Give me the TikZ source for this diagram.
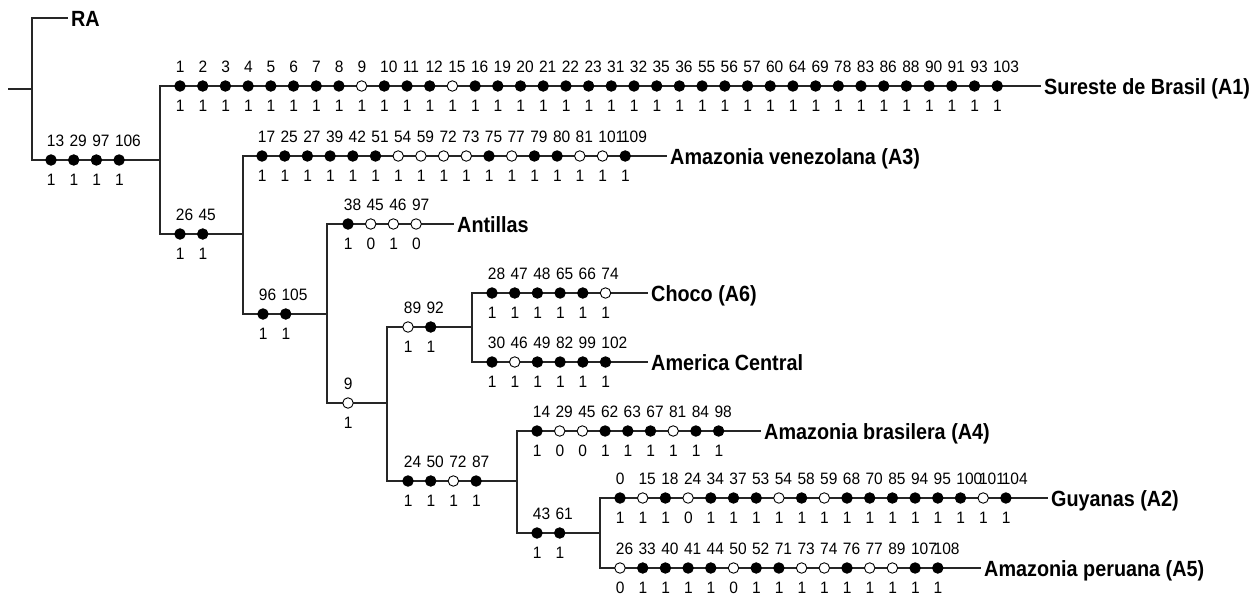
\documentclass[tikz,border=0pt]{standalone}
\usepackage{fontspec}
\setmainfont{Liberation Sans}
\newfontfamily\labfont[FakeStretch=0.94]{Liberation Sans}
\newfontfamily\taxfont[FakeStretch=0.9]{Liberation Sans Bold}
\tikzset{
  lab/.style={font=\labfont\fontsize{16.5}{16.5}\selectfont, inner sep=0pt, anchor=base west},
  taxon/.style={font=\taxfont\fontsize{22}{22}\selectfont, anchor=west, inner xsep=4pt, inner ysep=0pt, text height=16pt, text depth=0pt},
  dot/.style={circle, draw=black, line width=0.9pt, minimum size=10.5pt, inner sep=0pt},
  branch/.style={line width=1.1pt, line cap=rect, draw=black!85}
}
\newcommand\chrow[4]{%
  \foreach \n/\f/\b [count=\i from 0] in {#4} {
    \node[dot, fill=\f] (#1-\i) at ({#2+\i*22.7},#3) {};
    \node[lab] (#1-\i-u) at ([xshift=-4.3pt, yshift=13.4pt]#1-\i.center) {\n};
    \node[lab] (#1-\i-d) at ([xshift=-4.3pt, yshift=-25.5pt]#1-\i.center) {\b};
  }}
\begin{document}
\begin{tikzpicture}[x=1pt, y=-1pt]
\useasboundingbox (0,0) rectangle (1259,597);
% taxa
\node[taxon] (RA)  at (67,18)   {RA};
\node[taxon] (A1)  at (1040,86) {Sureste de Brasil (A1)};
\node[taxon] (A3)  at (666,156) {Amazonia venezolana (A3)};
\node[taxon] (Ant) at (453,224) {Antillas};
\node[taxon] (Cho) at (647,293) {Choco (A6)};
\node[taxon] (AmC) at (647,362) {America Central};
\node[taxon] (A4)  at (760,431) {Amazonia brasilera (A4)};
\node[taxon] (Guy) at (1047,498) {Guyanas (A2)};
\node[taxon] (A5)  at (980,568) {Amazonia peruana (A5)};
% junctions
\coordinate (r)  at (9,89);
\coordinate (n0) at (32,89);
\coordinate (n1) at (160,160);
\coordinate (n2) at (243,234);
\coordinate (n3) at (327,314);
\coordinate (n4) at (387,403);
\coordinate (n5) at (472,327);
\coordinate (n6) at (517,481);
\coordinate (n7) at (600,533);
% tree
\draw[branch] (r) -- (n0);
\draw[branch] (RA.west) -| (n0);
\draw[branch] (n1) -| (n0);
\draw[branch] (A1.west) -| (n1);
\draw[branch] (n2) -| (n1);
\draw[branch] (A3.west) -| (n2);
\draw[branch] (n3) -| (n2);
\draw[branch] (Ant.west) -| (n3);
\draw[branch] (n4) -| (n3);
\draw[branch] (n5) -| (n4);
\draw[branch] (n6) -| (n4);
\draw[branch] (Cho.west) -| (n5);
\draw[branch] (AmC.west) -| (n5);
\draw[branch] (A4.west) -| (n6);
\draw[branch] (n7) -| (n6);
\draw[branch] (Guy.west) -| (n7);
\draw[branch] (A5.west) -| (n7);
% characters
\chrow{b1}{51}{160}{13/black/1,29/black/1,97/black/1,106/black/1}
\chrow{a1}{180}{86}{1/black/1,2/black/1,3/black/1,4/black/1,5/black/1,6/black/1,7/black/1,8/black/1,9/white/1,10/black/1,11/black/1,12/black/1,15/white/1,16/black/1,19/black/1,20/black/1,21/black/1,22/black/1,23/black/1,31/black/1,32/black/1,35/black/1,36/black/1,55/black/1,56/black/1,57/black/1,60/black/1,64/black/1,69/black/1,78/black/1,83/black/1,86/black/1,88/black/1,90/black/1,91/black/1,93/black/1,103/black/1}
\chrow{b2}{180}{234}{26/black/1,45/black/1}
\chrow{a3}{262}{156}{17/black/1,25/black/1,27/black/1,39/black/1,42/black/1,51/black/1,54/white/1,59/white/1,72/white/1,73/white/1,75/black/1,77/white/1,79/black/1,80/black/1,81/white/1,101/white/1,109/black/1}
\chrow{b3}{263}{314}{96/black/1,105/black/1}
\chrow{an}{348}{224}{38/black/1,45/white/0,46/white/1,97/white/0}
\chrow{b4}{348}{403}{9/white/1}
\chrow{b5}{408}{327}{89/white/1,92/black/1}
\chrow{ch}{492}{293}{28/black/1,47/black/1,48/black/1,65/black/1,66/black/1,74/white/1}
\chrow{ac}{492}{362}{30/black/1,46/white/1,49/black/1,82/black/1,99/black/1,102/black/1}
\chrow{b6}{408}{481}{24/black/1,50/black/1,72/white/1,87/black/1}
\chrow{a4}{537}{431}{14/black/1,29/white/0,45/white/0,62/black/1,63/black/1,67/black/1,81/white/1,84/black/1,98/black/1}
\chrow{b7}{537}{533}{43/black/1,61/black/1}
\chrow{gu}{620}{498}{0/black/1,15/white/1,18/black/1,24/white/0,34/black/1,37/black/1,53/black/1,54/white/1,58/black/1,59/white/1,68/black/1,70/black/1,85/black/1,94/black/1,95/black/1,100/black/1,101/white/1,104/black/1}
\chrow{pe}{620}{568}{26/white/0,33/black/1,40/black/1,41/black/1,44/black/1,50/white/0,52/black/1,71/black/1,73/white/1,74/white/1,76/black/1,77/white/1,89/white/1,107/black/1,108/black/1}
\end{tikzpicture}
\end{document}
